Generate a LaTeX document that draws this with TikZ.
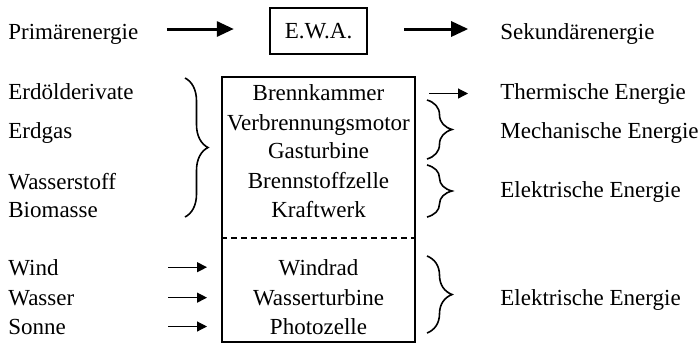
\documentclass[tikz,border=0pt]{standalone}
\usepackage{fontspec}
\setmainfont{Liberation Serif}
\usetikzlibrary{arrows.meta,positioning,calc,decorations.pathreplacing}

\begin{document}
\begin{tikzpicture}[x=0.5pt, y=-0.5pt, font=\fontsize{11.5}{14}\selectfont]
    \tikzset{lbl/.style={inner sep=0pt, anchor=base west}}
    \tikzset{mid/.style={inner sep=0pt, anchor=base}}
    \tikzset{bigarrow/.style={-{Triangle[length=8.5pt,width=7.5pt]}, line width=1.5pt}}
    \tikzset{smallarrow/.style={-{Triangle[length=5pt,width=5pt]}, line width=0.6pt}}
    \tikzset{bracket/.style={decorate, decoration={brace, amplitude=#1}, line width=0.8pt}}
    \useasboundingbox (0,0) rectangle (700,344);

    % Top row
    \node[lbl] (prim) at (8,39) {Primärenergie};
    \node[draw, line width=1.2pt, minimum width=48.5pt, minimum height=23pt,
          inner sep=0pt] (ewa) at (318.5,31) {E.W.A.};
    \node[lbl] (sek) at (500,39) {Sekundärenergie};
    \draw[bigarrow] ($(ewa.west)+(-51pt,1pt)$) -- ($(ewa.west)+(-17.5pt,1pt)$);
    \draw[bigarrow] ($(ewa.east)+(18pt,1pt)$) -- ($(ewa.east)+(50pt,1pt)$);

    % Energy converter box
    \node[draw, line width=1pt, minimum width=96.5pt, minimum height=132.5pt,
          inner sep=0pt] (anlage) at (318.5,209.5) {};
    \draw[dashed, dash pattern=on 3pt off 2pt, line width=0.6pt]
      (anlage.west |- 0,238) -- (anlage.east |- 0,238);
    \node[mid] (brenn)   at (318.5,100) {Brennkammer};
    \node[mid] (vmotor)  at (318.5,130) {Verbrennungsmotor};
    \node[mid] (gasturb) at (318.5,158) {Gasturbine};
    \node[mid] (bzelle)  at (318.5,188) {Brennstoffzelle};
    \node[mid] (kraftw)  at (318.5,217) {Kraftwerk};
    \node[mid] (windrad) at (318.5,275) {Windrad};
    \node[mid] (wturb)   at (318.5,305) {Wasserturbine};
    \node[mid] (photo)   at (318.5,334) {Photozelle};

    % Left: primary sources
    \node[lbl] (erdoel)   at (8,99)  {Erdölderivate};
    \node[lbl] (erdgas)   at (8,138) {Erdgas};
    \node[lbl] (wasserst) at (8,189) {Wasserstoff};
    \node[lbl] (biomasse) at (8,217) {Biomasse};
    \node[lbl] (wind)     at (8,275) {Wind};
    \node[lbl] (wasser)   at (8,305) {Wasser};
    \node[lbl] (sonne)    at (8,334) {Sonne};

    \coordinate (lb1) at (185,78);
    \coordinate (lb2) at (185,217);
    \draw[bracket=11.5pt] (lb1) -- (lb2);

    \foreach \n in {wind, wasser, sonne}{
      \draw[smallarrow] ($(anlage.west |- \n)+(-26.5pt,0)$) -- ($(anlage.west |- \n)+(-7pt,0)$);
    }

    % Right: secondary energy
    \node[lbl] (therm) at (500,99)  {Thermische Energie};
    \node[lbl] (mech)  at (500,138) {Mechanische Energie};
    \node[lbl] (elek1) at (500,197) {Elektrische Energie};
    \node[lbl] (elek2) at (500,305) {Elektrische Energie};

    \draw[smallarrow] ($(anlage.east |- therm)+(6.5pt,0)$) -- ($(anlage.east |- therm)+(26pt,0)$);

    \coordinate (rb1) at (427,100);
    \coordinate (rb2) at (427,159);
    \coordinate (rb3) at (427,165);
    \coordinate (rb4) at (427,217);
    \coordinate (rb5) at (427,256);
    \coordinate (rb6) at (427,333);
    \draw[bracket=12.5pt] (rb1) -- (rb2);
    \draw[bracket=12.5pt] (rb3) -- (rb4);
    \draw[bracket=12.5pt] (rb5) -- (rb6);
\end{tikzpicture}
\end{document}
